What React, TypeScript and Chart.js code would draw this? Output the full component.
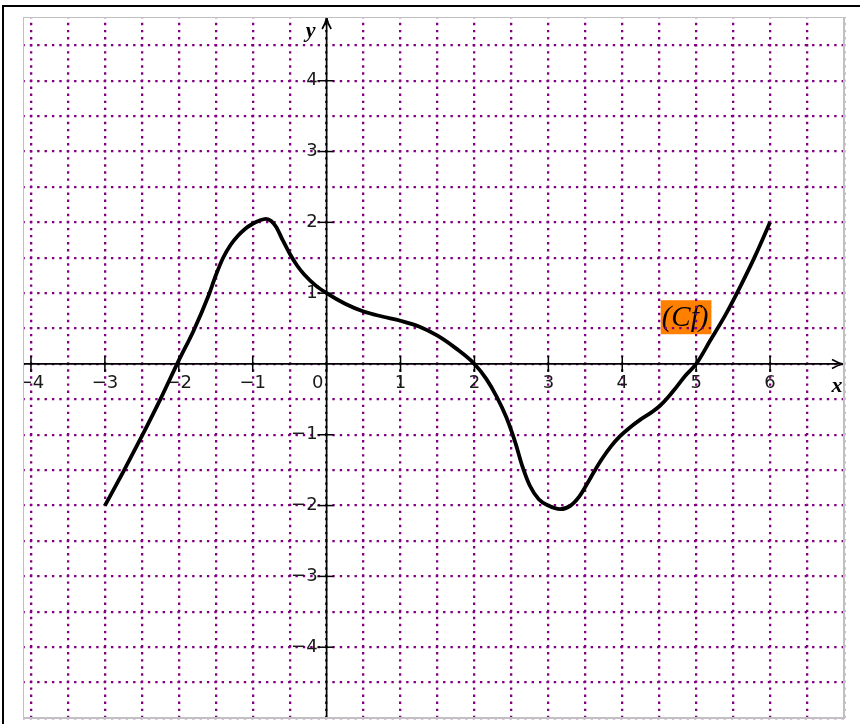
import React, { useEffect, useRef } from "react";
import { Chart, registerables } from "chart.js";

Chart.register(...registerables);

const curveX = [-3, -2.75, -2.5, -2.25, -2.0, -1.8, -1.6, -1.5, -1.4, -1.3, -1.2, -1.1, -1.0, -0.9, -0.82, -0.75, -0.68, -0.6, -0.5, -0.4, -0.3, -0.15, 0, 0.25, 0.5, 0.75, 1.0, 1.25, 1.5, 1.75, 2.0, 2.16, 2.3, 2.43, 2.55, 2.65, 2.75, 2.87, 3.0, 3.16, 3.3, 3.42, 3.52, 3.62, 3.72, 3.85, 3.97, 4.1, 4.24, 4.4, 4.51, 4.62, 4.73, 4.85, 5.0, 5.19, 5.4, 5.6, 5.8, 6.0];
const curveY = [-2, -1.52, -1.02, -0.5, 0.05, 0.47, 0.96, 1.25, 1.5, 1.68, 1.81, 1.91, 1.98, 2.03, 2.05, 2.02, 1.93, 1.76, 1.56, 1.39, 1.26, 1.11, 1.0, 0.85, 0.74, 0.67, 0.61, 0.53, 0.4, 0.22, 0, -0.21, -0.46, -0.75, -1.1, -1.45, -1.72, -1.91, -2.0, -2.05, -2.0, -1.87, -1.7, -1.52, -1.35, -1.16, -1.02, -0.9, -0.79, -0.68, -0.59, -0.47, -0.33, -0.17, 0, 0.33, 0.7, 1.1, 1.53, 2];

const xTickValues = [-4, -3, -2, -1, 0, 1, 2, 3, 4, 5, 6];
const yTickValues = [-4, -3, -2, -1, 1, 2, 3, 4];

const X_MIN = -4.108;
const X_MAX = 7;
const Y_MIN = -5;
const Y_MAX = 4.9;

const curveLabel = "(Cf)";
const curveLabelAt = { x: 4.52, y: 0.9 };

const fmt = (v: number) => (v < 0 ? "\u2212" + Math.abs(v) : String(v));

const decorPlugin = {
  id: "decor",
  beforeDraw(chart: any) {
    const ctx = chart.ctx;
    const xs = chart.scales.x;
    const ys = chart.scales.y;
    const px = xs.getPixelForValue(curveLabelAt.x);
    const py = ys.getPixelForValue(curveLabelAt.y);
    ctx.save();
    ctx.font = "italic 29px 'Liberation Serif', serif";
    const w = ctx.measureText(curveLabel).width + 4;
    ctx.fillStyle = "#ff8000";
    ctx.fillRect(px, py, w, 34);
    ctx.fillStyle = "#000";
    ctx.textBaseline = "middle";
    ctx.textAlign = "left";
    ctx.fillText(curveLabel, px + 1, py + 18);
    ctx.restore();
  },
  beforeDatasetsDraw(chart: any) {
    const ctx = chart.ctx;
    const a = chart.chartArea;
    const xs = chart.scales.x;
    const ys = chart.scales.y;
    const x0 = xs.getPixelForValue(0);
    const y0 = ys.getPixelForValue(0);
    ctx.save();
    ctx.beginPath();
    ctx.rect(a.left, a.top, a.right - a.left, a.bottom - a.top);
    ctx.clip();
    ctx.strokeStyle = "#000";
    ctx.lineWidth = 1.7;
    ctx.beginPath();
    ctx.moveTo(a.left, y0);
    ctx.lineTo(a.right - 1, y0);
    ctx.stroke();
    ctx.beginPath();
    ctx.moveTo(a.right - 12, y0 - 4.5);
    ctx.quadraticCurveTo(a.right - 6, y0 - 1, a.right - 1, y0);
    ctx.quadraticCurveTo(a.right - 6, y0 + 1, a.right - 12, y0 + 4.5);
    ctx.stroke();
    ctx.beginPath();
    ctx.moveTo(x0, a.bottom);
    ctx.lineTo(x0, a.top + 1);
    ctx.stroke();
    ctx.beginPath();
    ctx.moveTo(x0 - 4.5, a.top + 12);
    ctx.quadraticCurveTo(x0 - 1, a.top + 6, x0, a.top + 1);
    ctx.quadraticCurveTo(x0 + 1, a.top + 6, x0 + 4.5, a.top + 12);
    ctx.stroke();
    ctx.lineWidth = 1.5;
    for (const v of xTickValues) {
      const p = xs.getPixelForValue(v);
      ctx.beginPath();
      ctx.moveTo(p, y0 - 8);
      ctx.lineTo(p, y0 + 8);
      ctx.stroke();
    }
    for (const v of yTickValues) {
      const p = ys.getPixelForValue(v);
      ctx.beginPath();
      ctx.moveTo(x0 - 9, p);
      ctx.lineTo(x0 + 7, p);
      ctx.stroke();
    }
    ctx.fillStyle = "#1a1a1a";
    ctx.font = "18px 'DejaVu Sans', sans-serif";
    ctx.textBaseline = "middle";
    ctx.textAlign = "center";
    for (const v of xTickValues) {
      const p = xs.getPixelForValue(v);
      ctx.fillText(fmt(v), v === 0 ? p - 9 : p, y0 + 19);
    }
    ctx.textAlign = "right";
    for (const v of yTickValues) {
      const p = ys.getPixelForValue(v);
      ctx.fillText(fmt(v), x0 - 9, p);
    }
    ctx.fillStyle = "#000";
    ctx.font = "bold italic 22px 'Liberation Serif', serif";
    ctx.textAlign = "center";
    ctx.fillText("x", a.right - 7, y0 + 22);
    ctx.fillText("y", x0 - 16, a.top + 14);
    ctx.restore();
  },
  afterDraw(chart: any) {
    const ctx = chart.ctx;
    const a = chart.chartArea;
    ctx.save();
    ctx.fillStyle = "#c0c0c0";
    ctx.fillRect(a.left, a.top, 1, a.bottom - a.top);
    ctx.fillRect(a.left, a.top, a.right - a.left, 1);
    ctx.fillRect(a.right - 1, a.top, 2, a.bottom - a.top + 1);
    ctx.fillRect(a.left, a.bottom - 1, a.right - a.left + 1, 2);
    ctx.fillStyle = "#000";
    ctx.fillRect(2, 5, chart.width - 2, 2);
    ctx.fillRect(2, 5, 2, chart.height - 5);
    ctx.restore();
  },
};

export default function App() {
  const ref = useRef<HTMLCanvasElement>(null);
  useEffect(() => {
    const canvas = ref.current!;
    const points = curveX.map((x, i) => ({ x, y: curveY[i] }));
    const chart = new Chart(canvas, {
      type: "scatter",
      data: {
        datasets: [
          {
            data: points,
            showLine: true,
            borderColor: "#000",
            borderWidth: 3.8,
            pointRadius: 0,
            cubicInterpolationMode: "monotone",
            fill: false,
          },
        ],
      },
      options: {
        animation: false,
        responsive: false,
        devicePixelRatio: 1,
        layout: { padding: { left: 23, top: 17, right: 16, bottom: 6 } },
        plugins: { legend: { display: false }, tooltip: { enabled: false } },
        scales: {
          x: {
            type: "linear",
            min: X_MIN,
            max: X_MAX,
            ticks: { stepSize: 0.5, display: false, includeBounds: false },
            grid: { color: "#800080", lineWidth: 2.3, drawTicks: false },
            border: { display: false, dash: [2.4, 4.67], dashOffset: 1.2 },
          },
          y: {
            type: "linear",
            min: Y_MIN,
            max: Y_MAX,
            ticks: { stepSize: 0.5, display: false, includeBounds: false },
            grid: { color: "#800080", lineWidth: 2.3, drawTicks: false },
            border: { display: false, dash: [2.4, 4.98], dashOffset: 0.6 },
          },
        },
      } as any,
      plugins: [decorPlugin],
    });
    return () => chart.destroy();
  }, []);
  return (
    <div style={{ position: "fixed", left: 0, top: 0, width: 860, height: 724, background: "#fff" }}>
      <canvas ref={ref} width={860} height={724} style={{ display: "block" }} />
    </div>
  );
}
